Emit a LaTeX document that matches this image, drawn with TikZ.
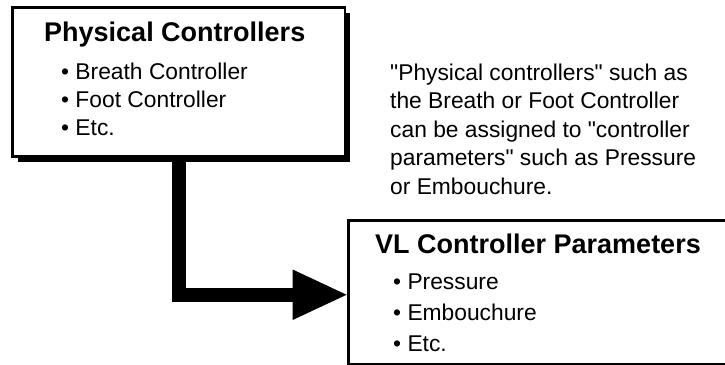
\documentclass[tikz,border=0pt]{standalone}
\usepackage{fontspec}
\setmainfont{Liberation Sans}
\usetikzlibrary{positioning,calc,arrows.meta,shadows}
\tikzset{>=stealth}
\tikzset{
  ctlbox/.style={draw,line width=2.5pt,fill=white,outer sep=0pt,inner sep=0pt,anchor=north west,
    drop shadow={shadow xshift=5.5pt,shadow yshift=-5.5pt,fill=black,opacity=1}},
  boxtitle/.style={anchor=base west,inner sep=0pt,font=\fontsize{27}{32}\selectfont\bfseries},
  boxitem/.style={anchor=base west,inner sep=0pt,font=\fontsize{22.8}{28}\selectfont},
  bigarrow/.style={line width=14.5pt,line join=miter,-{Triangle[length=56pt,width=46pt]}}
}
\newcommand{\dq}{\textquotedbl}

\begin{document}
\begin{tikzpicture}[x=1pt,y=-1pt]
\useasboundingbox (0,0) rectangle (725,364);
\clip (0,0) rectangle (725,364);
\fill[white] (0,0) rectangle (725,364);
% the two boxes
\node[ctlbox,minimum width=332.5pt,minimum height=149pt] (phys) at (12.25,7.25) {};
\node[ctlbox,minimum width=480pt,minimum height=143.75pt] (vlpar) at (348.5,220.25) {};
\node[boxtitle] (physT) at (44,41) {Physical Controllers};
\node[boxitem] (phys1) at (61,79) {• Breath Controller};
\node[boxitem] (phys2) at (61,107) {• Foot Controller};
\node[boxitem] (phys3) at (61,135) {• Etc.};
\node[boxtitle] (vlparT) at (375,253) {VL Controller Parameters};
\node[boxitem] (vlpar1) at (393,289) {• Pressure};
\node[boxitem] (vlpar2) at (393,320) {• Embouchure};
\node[boxitem] (vlpar3) at (393,351) {• Etc.};
% the note
\node[boxitem] (note1) at (390,80) {\dq Physical controllers\dq{} such as};
\node[boxitem] (note2) at (390,108.5) {the Breath or Foot Controller};
\node[boxitem] (note3) at (390,137) {can be assigned to \dq controller};
\node[boxitem] (note4) at (390,165.5) {parameters\dq{} such as Pressure};
\node[boxitem] (note5) at (390,194) {or Embouchure.};
% the arrow
\coordinate (bend) at ($(phys.south west)+(166.75,0)$);
\coordinate (tip) at ($(vlpar.north west)+(0,74.5)$);
\draw[bigarrow] (bend) |- (tip);
\end{tikzpicture}
\end{document}
